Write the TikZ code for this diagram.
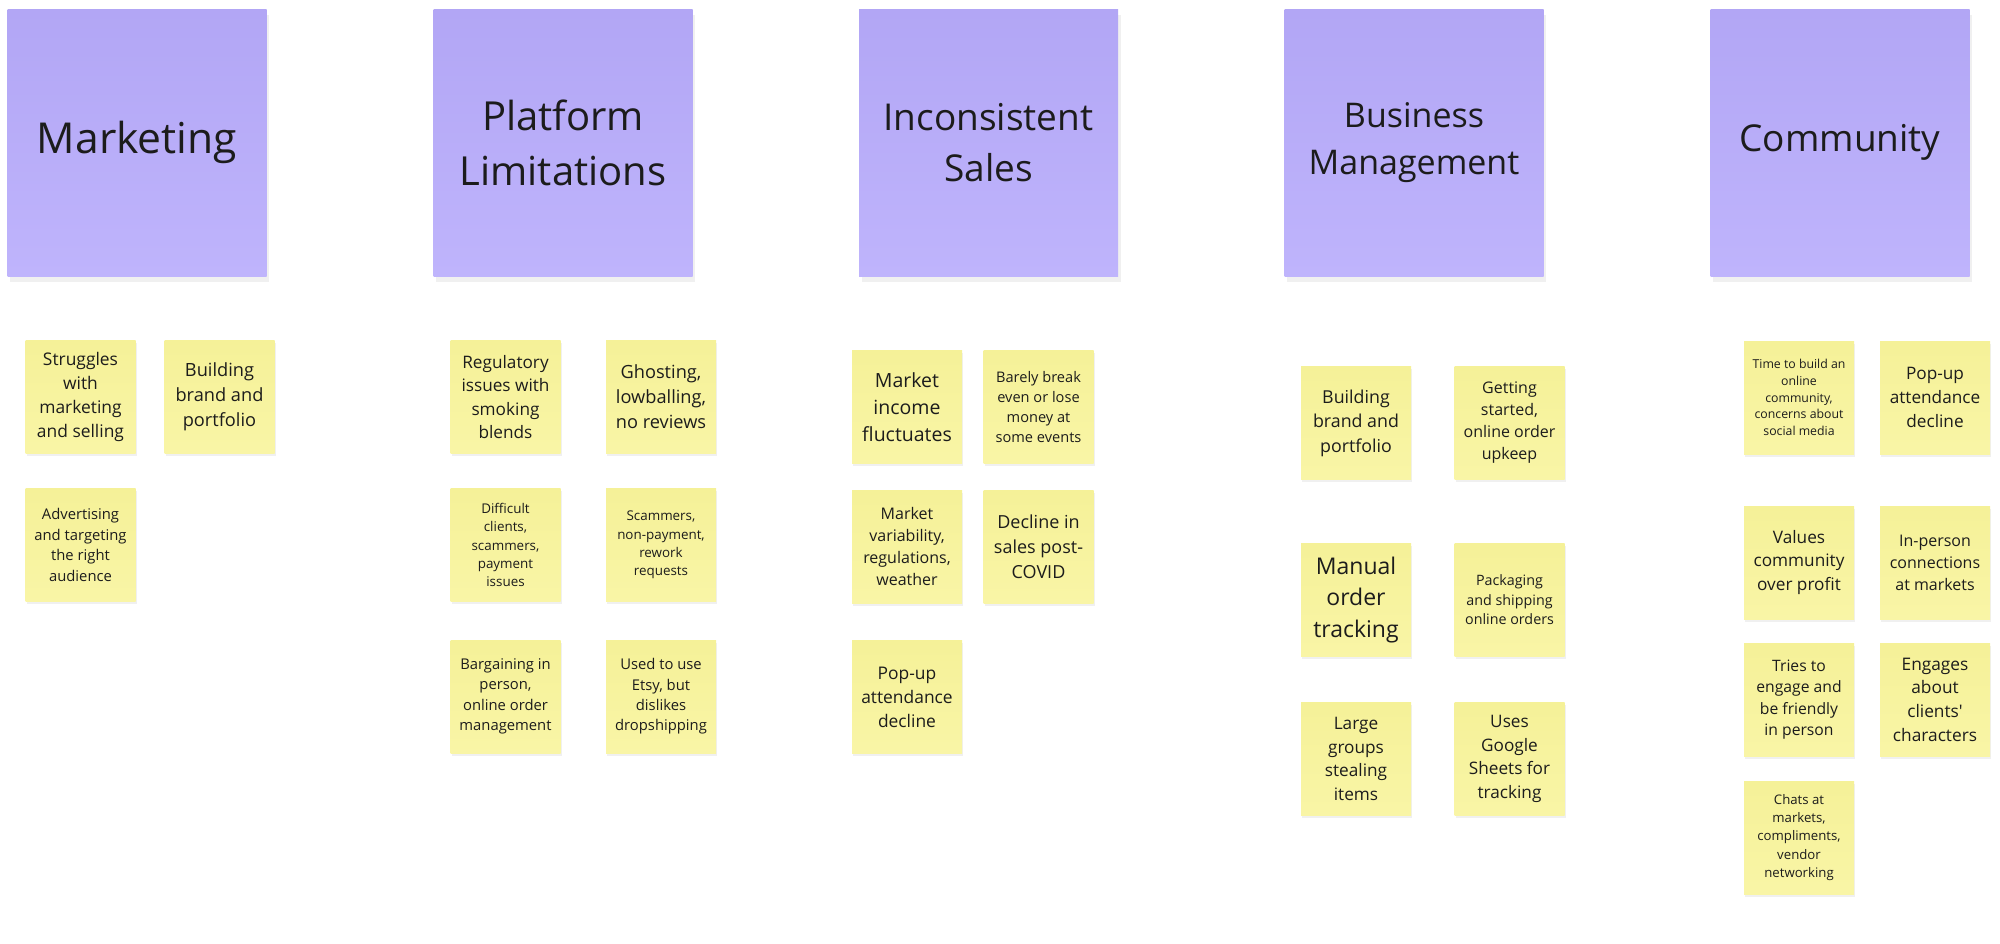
\documentclass[tikz,border=0pt]{standalone}
\usepackage{fontspec}
\setmainfont{Open Sans}
\usetikzlibrary{shadows}
\definecolor{lilac top}{RGB}{178,166,245}
\definecolor{lilac bottom}{RGB}{191,180,252}
\definecolor{note top}{RGB}{245,241,152}
\definecolor{note bottom}{RGB}{249,245,166}
\definecolor{ink}{RGB}{28,28,28}
\tikzset{
  soft shadow/.style={drop shadow={shadow xshift=#1,shadow yshift=-2*#1,opacity=.12}},
  header/.style 2 args={minimum width=129.5pt,minimum height=133.5pt,inner sep=0pt,
    top color=lilac top,bottom color=lilac bottom,soft shadow=1.4pt,
    align=center,text=ink,font=\fontsize{#1}{#2}\selectfont},
  note/.style 2 args={minimum width=55pt,minimum height=56.5pt,inner sep=0pt,
    top color=note top,bottom color=note bottom,soft shadow=.7pt,
    align=center,text=ink,font=\fontsize{#1}{#2}\selectfont},
}

\begin{document}
\begin{tikzpicture}[x=.5pt,y=-.5pt]
\useasboundingbox (0,0) rectangle (2000,943);
% headers
\node[header={21.3}{29}] (mkt) at (137,142.5) {Marketing};
\node[header={20}{27.5}] (plat) at (563,142.5) {Platform\\Limitations};
\node[header={18.5}{25.5}] (sales) at (988.5,142.5) {Inconsistent\\Sales};
\node[header={17}{23.5}] (biz) at (1414,142.5) {Business\\Management};
\node[header={18.5}{25.5}] (comm) at (1840,142.5) {Community};
% marketing
\node[note={8.7}{12}] (mkt1) at (80.5,397) {Struggles\\with\\marketing\\and selling};
\node[note={9.1}{12.5}] (mkt2) at (219.5,397) {Building\\brand and\\portfolio};
\node[note={7.4}{10.2}] (mkt3) at (80.5,545) {Advertising\\and targeting\\the right\\audience};
% platform limitations
\node[note={8.6}{11.8}] (plat1) at (505.5,397) {Regulatory\\issues with\\smoking\\blends};
\node[note={9.1}{12.5}] (plat2) at (661,397) {Ghosting,\\lowballing,\\no reviews};
\node[note={6.7}{9.2}] (plat3) at (505.5,545) {Difficult\\clients,\\scammers,\\payment\\issues};
\node[note={6.7}{9.2}] (plat4) at (661,545) {Scammers,\\non-payment,\\rework\\requests};
\node[note={7.4}{10.2}] (plat5) at (505.5,696.5) {Bargaining in\\person,\\online order\\management};
\node[note={7.4}{10.2}] (plat6) at (661,696.5) {Used to use\\Etsy, but\\dislikes\\dropshipping};
% inconsistent sales
\node[note={9.75}{13.4}] (sales1) at (907,407) {Market\\income\\fluctuates};
\node[note={7.3}{10}] (sales2) at (1038.5,407) {Barely break\\even or lose\\money at\\some events};
\node[note={8}{11}] (sales3) at (907,546.5) {Market\\variability,\\regulations,\\weather};
\node[note={9}{12.4}] (sales4) at (1038.5,546.5) {Decline in\\sales post-\\COVID};
\node[note={8.7}{12}] (sales5) at (907,697) {Pop-up\\attendance\\decline};
% business management
\node[note={8.9}{12.3}] (biz1) at (1356,423) {Building\\brand and\\portfolio};
\node[note={8}{11}] (biz2) at (1509.5,423) {Getting\\started,\\online order\\upkeep};
\node[note={11.5}{15.8}] (biz3) at (1356,600) {Manual\\order\\tracking};
\node[note={7.15}{9.8}] (biz4) at (1509.5,600) {Packaging\\and shipping\\online orders};
\node[note={8.6}{11.8}] (biz5) at (1356,759) {Large\\groups\\stealing\\items};
\node[note={8.6}{11.8}] (biz6) at (1509.5,759) {Uses\\Google\\Sheets for\\tracking};
% community
\node[note={6.15}{8.4}] (comm1) at (1799,397.5) {Time to build an\\online\\community,\\concerns about\\social media};
\node[note={8.6}{11.8}] (comm2) at (1935,397.5) {Pop-up\\attendance\\decline};
\node[note={8.6}{11.8}] (comm3) at (1799,562.5) {Values\\community\\over profit};
\node[note={8}{11}] (comm4) at (1935,562.5) {In-person\\connections\\at markets};
\node[note={7.85}{10.75}] (comm5) at (1799,699.5) {Tries to\\engage and\\be friendly\\in person};
\node[note={8.65}{11.85}] (comm6) at (1935,699.5) {Engages\\about\\clients\textquotesingle\\characters};
\node[note={6.6}{9.05}] (comm7) at (1799,837.5) {Chats at\\markets,\\compliments,\\vendor\\networking};
\end{tikzpicture}
\end{document}
